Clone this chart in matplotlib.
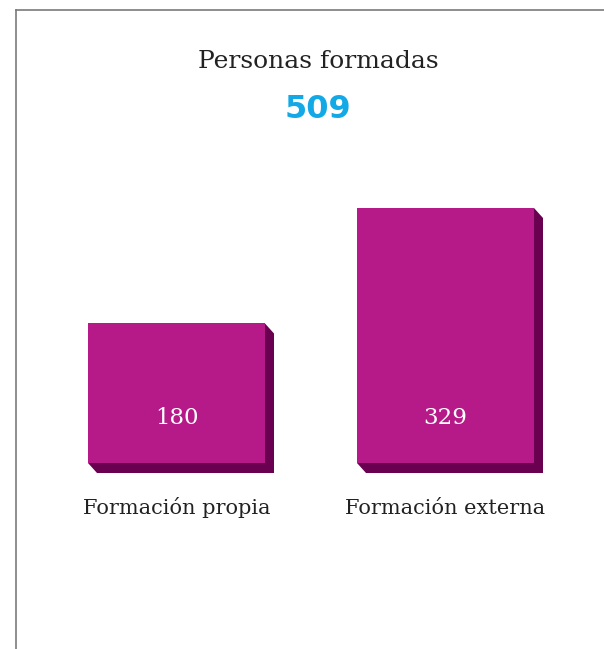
import matplotlib
matplotlib.use("Agg")
import matplotlib.pyplot as plt
from matplotlib.patches import Polygon
from matplotlib.lines import Line2D

categories = ["Formación propia", "Formación externa"]
values = [180, 329]
total_label = "509"
title = "Personas formadas"

W, H = 604, 649
fig = plt.figure(figsize=(W / 100, H / 100), dpi=100)
fig.patch.set_facecolor("white")

# axes placement in pixels
x0_pix = 176.5  # centre of first bar
step = 269.0
base_y = 463.0
top_y = 208.0
ax = fig.add_axes([0, (H - base_y) / H, 1, (base_y - top_y) / H])
ax.set_xlim(-x0_pix / step, (W - x0_pix) / step)
ax.set_ylim(0, max(values))
ax.axis("off")

front = "#B51A88"
side = "#6A0050"
width = 177 / step
xs = list(range(len(categories)))

fig.canvas.draw()
inv = ax.transData.inverted()
p0 = inv.transform((0, 0))
p1 = inv.transform((9, -10))
dx, dy = p1[0] - p0[0], p0[1] - p1[1]

for x, v in zip(xs, values):
    xl, xr = x - width / 2, x + width / 2
    shadow = Polygon([(xl, 0), (xl + dx, -dy), (xr + dx, -dy), (xr + dx, v - dy),
                      (xr, v), (xr, 0)], closed=True, facecolor=side,
                     edgecolor="none", clip_on=False, zorder=1)
    ax.add_patch(shadow)
ax.bar(xs, values, width=width, color=front, zorder=2, clip_on=False)

for x, v in zip(xs, values):
    ax.annotate(str(v), (x, 0), xytext=(0, 45), textcoords="offset pixels",
                ha="center", va="center", color="white", fontsize=16.5,
                family="DejaVu Serif", zorder=3)
    ax.annotate(categories[x], (x, 0), xytext=(0, -45), textcoords="offset pixels",
                ha="center", va="center", color="#222222", fontsize=15,
                family="DejaVu Serif", annotation_clip=False)

fig.text(318 / W, 1 - 62 / H, title, ha="center", va="center", fontsize=18,
         family="DejaVu Serif", color="#222222")
fig.text(318 / W, 1 - 110 / H, total_label, ha="center", va="center", fontsize=23,
         family="DejaVu Sans", fontweight="bold", color="#12A9E6")

# frame
fig.add_artist(Line2D([15.5 / W, 15.5 / W], [0, 1 - 10 / H], color="#7a7a7a", lw=1.2,
                      transform=fig.transFigure))
fig.add_artist(Line2D([15.5 / W, 1], [1 - 10 / H, 1 - 10 / H], color="#7a7a7a", lw=1.2,
                      transform=fig.transFigure))

fig.savefig("out.png", dpi=100, facecolor="white")
